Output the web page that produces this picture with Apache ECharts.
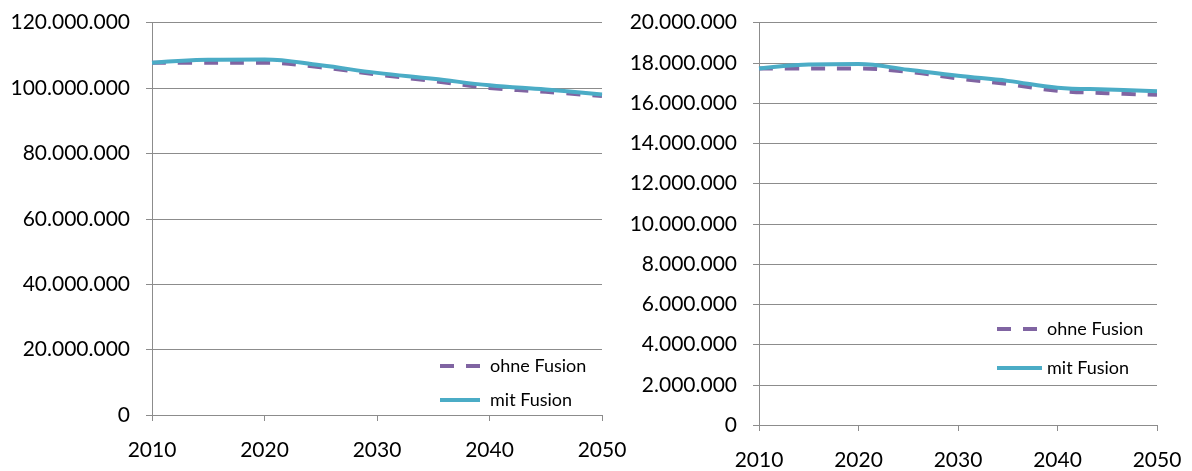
<!DOCTYPE html>
<html>
<head>
<meta charset="utf-8">
<script src="https://cdn.jsdelivr.net/npm/echarts@6/dist/echarts.min.js"></script>
<style>
  html, body { margin: 0; padding: 0; background: #fff; }
  #chart { width: 1192px; height: 471px; }
</style>
</head>
<body>
<div id="chart"></div>
<script>
// Jahre (Stützstellen alle 5 Jahre)
var years = [2010, 2015, 2020, 2025, 2030, 2035, 2040, 2045, 2050];

// linkes Diagramm
var leftOhne = [107700000, 107700000, 107700000, 106300000, 104100000, 102100000, 100000000, 98800000, 97500000];
var leftMit  = [107700000, 108600000, 108700000, 106900000, 104600000, 102800000, 100800000, 99500000, 98000000];

// rechtes Diagramm
var rightOhne = [17710000, 17710000, 17710000, 17550000, 17220000, 16940000, 16610000, 16490000, 16410000];
var rightMit  = [17710000, 17910000, 17940000, 17650000, 17350000, 17100000, 16760000, 16670000, 16590000];

var seriesNames = ['ohne Fusion', 'mit Fusion'];

var purple = '#8064A2';
var cyan = '#4BACC6';
var grey = '#8c8c8c';
var fontFam = 'Lato';

function fmt(v) {
    // Tausenderpunkte
    return String(v).replace(/\B(?=(\d{3})+(?!\d))/g, '.');
}

function pairs(vals) {
    return years.map(function (y, i) { return [y, vals[i]]; });
}

function xAxisCfg(idx) {
    return {
        type: 'value', gridIndex: idx, min: 2010, max: 2050, interval: 10,
        axisLine: { show: true, lineStyle: { color: grey, width: 1 } },
        axisTick: { show: true, length: 6, lineStyle: { color: grey } },
        axisLabel: { color: '#000', fontFamily: fontFam, fontSize: 21, margin: 25,
            formatter: function (v) { return String(v); } },
        splitLine: { show: false }
    };
}

function yAxisCfg(idx, max, interval) {
    return {
        type: 'value', gridIndex: idx, min: 0, max: max, interval: interval,
        axisLine: { show: true, lineStyle: { color: grey, width: 1 } },
        axisTick: { show: true, inside: false, length: 6, lineStyle: { color: grey } },
        axisLabel: { color: '#000', fontFamily: fontFam, fontSize: 21, margin: 22, formatter: fmt },
        splitLine: { show: true, lineStyle: { color: grey, width: 1 } }
    };
}

function lineSeries(name, idx, vals, color, dashed) {
    return {
        name: name, type: 'line', xAxisIndex: idx, yAxisIndex: idx,
        data: pairs(vals), smooth: 0.4, symbol: 'none',
        lineStyle: { color: color, width: 4, type: dashed ? [14, 12] : 'solid' },
        itemStyle: { color: color },
        z: dashed ? 2 : 3
    };
}

function legendCfg(left, top, w, gap, pad) {
    return {
        data: seriesNames,
        orient: 'vertical', left: left, top: top,
        itemWidth: w, itemHeight: 14, itemGap: gap,
        itemStyle: { opacity: 0 },
        lineStyle: { width: 4 },
        textStyle: { fontFamily: fontFam, fontSize: 18, color: '#000', lineHeight: 14, padding: [0, 0, 0, pad] }
    };
}

var dom = document.getElementById('chart');
var myChart = echarts.init(dom);

var option = {
    animation: false,
    grid: [
        { left: 152, right: 590, top: 22.5, bottom: 56 },
        { left: 759, right: 35, top: 22.5, bottom: 43 }
    ],
    xAxis: [xAxisCfg(0), xAxisCfg(1)],
    yAxis: [yAxisCfg(0, 120000000, 20000000), yAxisCfg(1, 20000000, 2000000)],
    legend: [
        legendCfg(433, 352, 40, 16, 5),
        legendCfg(990, 315, 45, 21, 0)
    ],
    series: [
        lineSeries(seriesNames[0], 0, leftOhne, purple, true),
        lineSeries(seriesNames[1], 0, leftMit, cyan, false),
        lineSeries(seriesNames[0], 1, rightOhne, purple, true),
        lineSeries(seriesNames[1], 1, rightMit, cyan, false)
    ]
};

myChart.setOption(option);
</script>
</body>
</html>
